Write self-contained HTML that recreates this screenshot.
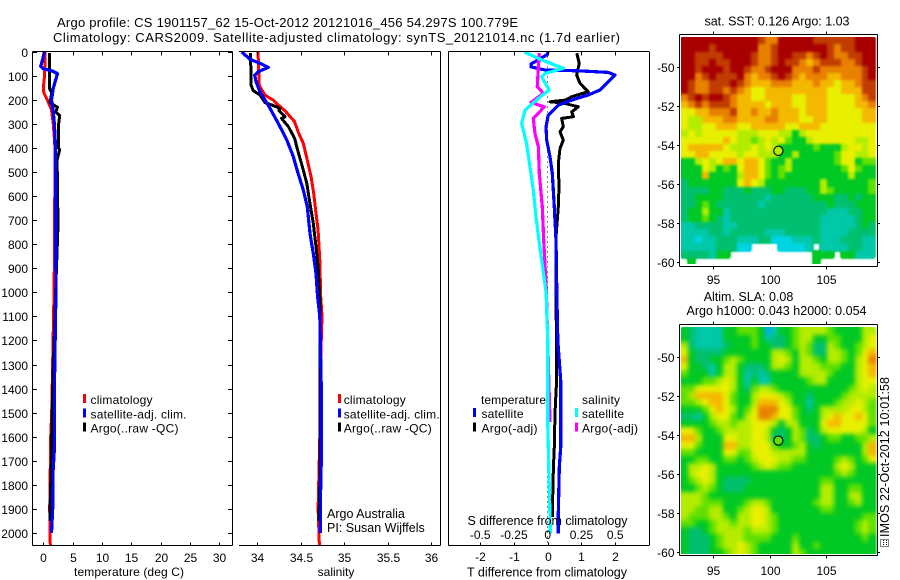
<!DOCTYPE html>
<html>
<head>
<meta charset="utf-8">
<title>Argo profile CS 1901157_62</title>
<style>
html,body{margin:0;padding:0;background:#fff;}
svg{display:block;}
text{font-family:"Liberation Sans",sans-serif;font-size:12px;fill:#000;}
.big{font-size:13px;}
.mid{font-size:12.5px;}
</style>
</head>
<body>
<svg id="chart" width="900" height="580" viewBox="0 0 900 580" xmlns="http://www.w3.org/2000/svg">
  <defs>
    <filter id="soften-sst" filterUnits="userSpaceOnUse" x="670" y="25" width="220" height="250" color-interpolation-filters="sRGB">
      <feGaussianBlur stdDeviation="1.2"/>
      <feComponentTransfer><feFuncA type="linear" slope="2" intercept="0"/></feComponentTransfer>
    </filter>
    <filter id="soften-sla" filterUnits="userSpaceOnUse" x="670" y="315" width="220" height="250" color-interpolation-filters="sRGB">
      <feGaussianBlur stdDeviation="2.4"/>
      <feComponentTransfer><feFuncA type="linear" slope="2" intercept="0"/></feComponentTransfer>
    </filter>
    <clipPath id="clip-sst"><rect x="681" y="37" width="196" height="227"/></clipPath>
    <clipPath id="clip-sla"><rect x="681" y="327" width="196" height="227"/></clipPath>
  </defs>
  <rect x="0" y="0" width="900" height="580" fill="#fff"/>
  <text class="big" x="57" y="27" textLength="461">Argo profile: CS 1901157_62 15-Oct-2012 20121016_456 54.297S 100.779E</text>
  <text class="big" x="53" y="42" textLength="567">Climatology: CARS2009. Satellite-adjusted climatology: synTS_20121014.nc (1.7d earlier)</text>
  <g id="layer-heat"></g>
  <g id="layer-lines"></g>
  <g id="layer-axes"></g>
  <text x="129" y="576" text-anchor="middle" textLength="110">temperature (deg C)</text>
  <text x="336" y="576" text-anchor="middle">salinity</text>
  <text class="mid" x="547" y="576.5" text-anchor="middle" textLength="160">T difference from climatology</text>
  <text class="mid" x="547.5" y="525" text-anchor="middle" textLength="160">S difference from climatology</text>
  <text class="mid" x="327" y="518">Argo Australia</text>
  <text class="mid" x="327" y="532">PI: Susan Wijffels</text>
  <text class="mid" x="777" y="25.5" text-anchor="middle" textLength="145">sat. SST: 0.126 Argo: 1.03</text>
  <text class="mid" x="748.5" y="301" text-anchor="middle">Altim. SLA: 0.08</text>
  <text class="mid" x="776.5" y="315" text-anchor="middle" textLength="180">Argo h1000: 0.043 h2000: 0.054</text>
  <text class="mid" transform="translate(889,537) rotate(-90)" textLength="160">IMOS 22-Oct-2012 10:01:58</text>
  <g fill="none" stroke="#000" stroke-width="1" stroke-dasharray="1 1" shape-rendering="crispEdges">
    <rect x="880.5" y="539.5" width="8" height="7"/>
    <line x1="883.5" y1="540" x2="883.5" y2="546"/>
    <line x1="886.5" y1="540" x2="886.5" y2="546"/>
  </g>
</svg>
<script>
// ---------- Profile data: depth (dbar) and value pairs kept in small arrays ----------
const tempClimDepth = [0,50,100,150,170,200,240,300,400,450,900,1000,1500,1600,1900,2054];
const tempClimValue = [0.3,0.3,0.2,0,0.1,0.7,1.4,1.7,2.0,2.0,1.88,1.83,1.43,1.26,1.09,1.2];
const tempArgoDepth = [5,150,170,210,230,250,265,300,400,405,450,720,1000,1450,1600,1650,1800,1900,1950];
const tempArgoValue = [1.03,1.03,1.45,1.15,2.4,2.15,2.8,2.6,2.6,2.8,2.35,2.5,2.1,1.53,1.43,1.43,1.26,1.15,1.15];
const tempSatDepth = [0,30,60,70,78,90,100,150,200,250,300,400,1000,1400,1650,1750,1900,2000];
const tempSatValue = [0.17,-0.1,-0.45,0,1.45,2.4,2.3,1.7,1.4,1.7,1.9,2.1,2.15,1.9,1.9,1.65,1.6,1.4];

const salClimDepth = [0,140,180,200,214,245,290,332,380,450,519,588,671,741,866,1018,1100,1400,1600,1900,2054];
const salClimValue = [34.008,34.023,34.09,34.184,34.22,34.32,34.43,34.47,34.53,34.576,34.62,34.65,34.676,34.7,34.72,34.73,34.745,34.72,34.72,34.7,34.715];
const salArgoDepth = [5,137,161,179,211,220,234,244,269,276,310,359,415,477,546,616,713,810,894,1018,1600,1800,1950];
const salArgoValue = [33.923,33.927,33.954,34.03,34.09,34.165,34.26,34.25,34.32,34.28,34.357,34.43,34.47,34.52,34.57,34.6,34.645,34.676,34.7,34.72,34.72,34.72,34.71];
const salSatDepth = [0,30,47,64,82,96,123,165,200,234,310,366,435,505,574,644,755,838,921,1018,1100,1400,1700,1800,2000];
const salSatValue = [33.82,33.915,34.03,34.127,34.01,33.97,33.985,34.03,34.09,34.146,34.26,34.34,34.415,34.47,34.53,34.576,34.607,34.645,34.676,34.695,34.72,34.737,34.737,34.73,34.726];

const diffTArgoDepth = [5,47,96,130,165,186,200,207,212,228,249,269,276,311,332,367,401,464,561,644,769,1000,1367,1502,1644,1727,1922,1935];
const diffTArgoValue = [0.858,0.937,0.858,0.957,1.2,0.71,0.512,0.068,0.45,0.907,0.71,0.76,0.414,0.463,0.364,0.463,0.364,0.315,0.335,0.315,0.246,0.25,0.265,0.215,0.197,0.168,0.137,0.137];
const diffTSatDepth = [0,12,50,62,75,78,85,96,124,158,179,200,221,262,311,367,436,505,644,783,1000,1200,1367,1644,1727,1922,2003];
const diffTSatValue = [0.019,-0.03,-0.495,-0.495,-0.08,0.907,1.796,1.994,1.796,1.55,1.2,0.71,0.315,0.019,-0.05,-0.03,0.068,0.137,0.197,0.246,0.27,0.3,0.384,0.384,0.345,0.315,0.315];
const diffSArgoDepth = [5,61,144,172,210,228,276,339,394,505,644,783,1000,1200,1540];
const diffSArgoValue = [-0.062,-0.069,-0.077,-0.032,-0.124,-0.025,-0.107,-0.094,-0.069,-0.062,-0.04,-0.03,-0.01,0,0.017];
const diffSSatDepth = [0,33,68,89,103,158,193,242,297,381,478,575,686,783,1000,1200,1540,2003];
const diffSSatValue = [-0.173,-0.045,0.116,-0.02,-0.045,0.01,-0.07,-0.168,-0.193,-0.156,-0.131,-0.107,-0.087,-0.065,-0.012,0,0,0.02];

// ---------- Tick labels ----------
const depthTicks = [0,100,200,300,400,500,600,700,800,900,1000,1100,1200,1300,1400,1500,1600,1700,1800,1900,2000];
const tempTicks = [0,5,10,15,20,25,30];
const salTicks = [34,34.5,35,35.5,36];
const diffTTicks = [-2,-1,0,1,2];
const diffSTicks = [-0.5,-0.25,0,0.25,0.5];
const lonTicks = [95,100,105];
const latTicks = [-50,-52,-54,-56,-58,-60];
const argoLon = [100.779];
const argoLat = [-54.297];
const sstArgoLevel = [5];
const slaArgoLevel = [4];

// ---------- Heatmap cells (colour level per cell; _ is missing data) ----------
const _ = null;
const sstGrid = [
[10,10,10,10,10,10,10,10,10,10,10,9,8,8,10,10,10,10,10,9,9,9,9,9,9,10,10,10],
[10,10,10,10,9,10,10,10,10,10,10,8,8,9,10,10,10,10,10,10,10,9,8,9,9,10,10,10],
[10,10,9,9,9,9,10,10,10,10,9,8,8,9,10,10,9,9,8,9,10,9,8,8,9,9,10,10],
[10,10,9,9,10,9,9,10,10,10,9,8,8,9,10,9,9,8,7,8,9,9,9,8,8,9,10,10],
[10,10,9,10,10,10,9,10,10,9,8,8,9,10,10,10,8,8,8,9,8,8,8,8,8,8,9,10],
[10,10,8,9,10,9,9,9,10,8,7,8,8,9,10,9,8,7,8,8,8,7,7,8,8,8,9,10],
[10,9,8,8,9,9,9,10,9,8,7,7,7,8,8,8,7,7,7,8,7,7,6,7,7,8,9,9],
[10,9,8,8,9,9,8,9,8,7,6,6,7,7,7,7,7,7,7,7,7,6,6,7,7,7,9,9],
[8,9,10,9,10,10,9,8,7,7,6,6,7,7,7,7,6,6,7,7,7,6,6,6,6,7,8,9],
[7,8,9,8,9,9,9,8,7,7,7,7,6,7,7,7,6,6,7,7,7,6,6,6,6,7,7,8],
[6,6,7,7,8,8,8,9,7,7,8,7,7,8,7,7,7,6,7,7,7,6,6,6,6,6,7,7],
[6,5,5,7,7,7,8,8,7,7,7,7,8,8,7,7,7,6,6,7,7,6,6,6,6,6,7,7],
[6,5,5,6,6,7,7,7,6,6,7,7,7,7,7,6,6,7,7,7,6,6,6,6,6,6,6,6],
[5,6,5,6,6,6,6,6,5,5,5,6,6,6,5,5,3,5,6,6,6,6,6,6,6,6,6,6],
[6,6,6,6,6,6,7,6,5,5,4,5,6,5,6,4,3,3,5,6,6,6,6,6,6,5,5,6],
[6,7,7,7,7,7,6,5,5,5,6,5,6,5,3,3,3,3,3,4,3,3,3,5,6,6,5,6],
[6,6,7,7,6,6,6,6,5,6,6,5,5,5,3,3,5,3,3,3,3,3,4,6,6,5,5,6],
[3,3,5,6,5,6,7,7,6,7,7,6,4,3,3,5,3,3,3,3,3,3,4,6,6,3,4,4],
[3,3,3,6,5,3,4,3,6,7,7,6,4,3,4,5,3,3,3,3,3,3,3,4,6,4,3,3],
[3,3,3,7,3,3,3,3,5,7,7,6,4,3,4,3,3,3,3,3,3,3,3,3,5,3,3,3],
[2,3,3,3,3,3,3,3,6,7,6,5,3,3,3,3,3,3,3,3,5,3,3,3,3,3,3,4],
[2,2,2,2,3,3,2,2,2,3,2,2,2,3,3,2,2,2,3,3,5,4,3,3,3,3,3,4],
[2,2,3,3,3,3,2,2,2,2,2,2,1,2,2,2,2,2,2,3,3,3,2,2,3,2,3,3],
[2,2,3,4,3,2,2,2,2,2,2,1,2,2,2,2,2,2,2,2,2,3,2,2,2,3,3,3],
[2,3,3,5,3,3,1,2,2,2,2,2,2,2,2,2,2,2,2,2,2,1,1,1,2,2,3,3],
[2,3,3,4,3,2,1,2,2,2,2,2,2,2,2,2,2,2,2,2,1,1,1,1,1,2,3,3],
[1,1,2,2,2,2,1,1,2,2,2,2,2,2,2,2,2,2,2,2,1,1,1,1,1,2,3,2],
[1,1,1,1,2,2,1,2,2,2,2,2,1,1,1,2,2,2,2,2,1,1,1,1,2,2,2,2],
[1,1,0,1,1,2,2,2,1,1,1,2,2,0,0,0,1,1,1,2,1,1,1,2,2,2,1,1],
[1,1,1,1,1,2,2,2,0,0,_,_,_,_,0,0,0,0,1,_,1,1,1,1,2,2,1,1],
[2,2,2,2,1,3,3,_,_,_,_,_,_,_,_,_,_,_,_,3,3,3,_,3,3,1,1,1],
[_,3,_,_,_,_,_,_,_,_,_,_,_,_,_,_,_,_,_,3,_,_,_,_,_,_,_,_]
];
const slaGrid = [
[3,2,1,1,1,1,3,3,4,4,4,3,-1,1,3,3,4,5,5,5,5,4,3,3,3,3,5,5],
[3,2,1,1,1,1,3,3,3,3,4,3,1,2,2,3,4,5,5,3,3,4,4,3,3,3,5,6],
[5,2,1,1,1,1,2,3,3,3,4,3,3,2,2,3,4,5,4,2,2,5,4,3,3,4,5,6],
[6,3,2,2,2,2,3,3,3,3,3,3,3,5,5,4,3,5,4,2,2,5,5,4,3,4,6,7],
[7,3,2,2,3,3,4,5,4,3,3,3,3,5,6,5,3,5,5,4,3,5,5,4,3,5,6,8],
[6,3,3,2,1,3,5,5,3,2,2,2,3,5,5,4,3,5,5,5,4,4,4,3,3,5,6,7],
[4,3,3,3,1,3,5,5,3,1,2,1,2,3,3,3,3,5,5,5,5,4,3,3,3,5,6,7],
[3,3,3,4,4,5,6,5,3,1,3,1,1,3,3,3,3,3,4,5,5,3,3,3,3,5,6,6],
[4,4,6,6,6,6,6,5,3,2,4,5,5,4,3,3,3,3,3,3,3,3,3,3,4,5,6,5],
[4,5,7,7,7,7,6,4,3,3,5,6,6,6,5,4,3,3,2,3,3,3,3,4,5,5,5,5],
[4,4,5,6,7,7,6,4,3,3,5,7,7,7,6,5,3,3,1,3,3,3,4,5,5,6,5,4],
[3,3,3,4,6,7,6,5,3,4,6,8,8,8,6,6,4,3,2,3,5,5,5,5,6,6,5,4],
[2,2,1,3,5,6,6,4,3,5,6,8,8,7,6,6,4,3,3,3,5,6,7,6,6,7,6,4],
[3,3,3,3,4,5,5,4,5,5,6,6,6,5,3,5,5,3,3,3,6,7,7,6,6,6,6,4],
[6,6,4,3,3,4,5,5,5,5,6,6,5,3,2,3,5,4,2,3,5,6,6,6,6,6,5,3],
[7,7,5,3,3,3,6,6,5,5,6,6,5,2,2,3,5,4,2,2,3,4,4,3,3,4,4,5],
[6,6,4,3,3,3,7,7,5,5,6,6,6,4,3,3,4,5,3,2,3,3,3,3,3,3,5,7],
[4,4,3,3,3,3,6,6,4,4,6,6,6,5,5,5,5,5,3,3,3,3,3,3,3,3,5,7],
[3,3,4,4,3,3,4,4,3,4,5,6,6,6,5,5,4,4,3,3,3,3,4,5,4,3,4,6],
[3,5,5,6,5,3,3,3,3,3,4,5,6,5,4,4,3,3,3,3,3,3,5,6,5,3,3,3],
[3,5,6,6,5,3,3,3,3,3,3,3,3,3,3,3,3,3,3,3,3,3,4,5,4,3,3,3],
[3,4,5,6,5,3,2,2,2,2,3,3,3,3,3,3,3,3,3,3,4,4,3,3,3,3,3,3],
[3,3,4,5,4,3,2,2,2,3,3,3,3,3,3,3,3,3,3,3,5,5,3,3,4,4,3,3],
[5,5,5,4,3,3,3,3,3,3,3,3,3,3,3,3,3,3,3,3,5,5,3,3,5,5,3,3],
[5,5,5,4,4,4,3,3,3,4,5,5,4,3,3,3,3,3,3,4,5,5,3,3,4,5,3,3],
[5,5,4,4,5,5,3,3,4,5,6,6,5,3,3,3,3,3,3,3,4,4,3,3,3,3,3,3],
[5,4,4,4,5,5,4,3,5,5,6,6,5,4,3,3,3,3,3,3,3,3,3,3,3,3,4,4],
[4,4,3,3,4,5,5,4,5,5,6,6,5,4,3,3,3,3,3,3,3,3,3,3,3,4,5,4],
[3,2,2,3,4,5,5,5,5,4,5,5,5,4,3,3,3,3,3,3,3,3,3,3,3,4,5,4],
[3,2,2,2,3,4,5,5,5,4,4,4,4,3,3,3,4,3,3,3,3,3,3,3,3,3,4,3],
[3,2,2,2,3,4,5,5,6,5,4,3,3,3,3,3,5,3,3,4,3,3,3,3,3,3,3,3],
[3,2,2,2,3,3,4,5,6,5,4,3,3,3,3,3,5,4,3,3,3,3,3,3,3,3,3,3]
];

// ---------- Styling and geometry ----------
const NS = 'http://www.w3.org/2000/svg';
const levelColor = {'-1':'#00a8f8',0:'#00d4e0',1:'#00c8a8',2:'#00c070',3:'#00c824',4:'#60e000',5:'#b4ec00',6:'#e8f000',7:'#f4b800',8:'#e88000',9:'#c03c00',10:'#a80000'};
const depthY = d => 52 + 0.2404 * d;
const tempX = v => 43.3 + 5.867 * v;
const salX = v => 257.3 + 86.8 * (v - 34);
const diffTX = v => 547.7 + 33.75 * v;
const diffSX = v => 547.7 + 135 * v;
const lonX = v => 713 + 11.31 * (v - 95);
const sstLatY = v => 67.3 + 19.44 * (-50 - v);
const slaLatY = v => 356.7 + 19.53 * (-50 - v);
const PANEL_TOP = 51.5, PANEL_BOTTOM = 545.5;
const GRID_LON0 = 92.2, GRID_DLON = 0.6128;
const SST_LAT0 = -48.46, SLA_LAT0 = -48.5, GRID_DLAT = 0.3655;

const heatLayer = document.getElementById('layer-heat');
const lineLayer = document.getElementById('layer-lines');
const axisLayer = document.getElementById('layer-axes');

function svgEl(tag, attrs, parent) {
  const el = document.createElementNS(NS, tag);
  for (const k in attrs) el.setAttribute(k, attrs[k]);
  parent.appendChild(el);
  return el;
}
function seg(x1, y1, x2, y2) {
  const el = svgEl('line', {x1:x1, y1:y1, x2:x2, y2:y2, stroke:'#000', 'stroke-width':1, 'shape-rendering':'crispEdges'}, axisLayer);
  
  
  return el;
}
function label(str, x, y, anchor) {
  const el = svgEl('text', {x:x, y:y, 'text-anchor':anchor}, axisLayer);
  el.textContent = str;
  
  
  return el;
}
function profile(depths, values, xf, color, width) {
  const pts = depths.map((d, i) => xf(values[i]).toFixed(1) + ',' + depthY(d).toFixed(1)).join(' ');
  const el = svgEl('polyline', {points:pts, fill:'none', stroke:color, 'stroke-width':width, 'stroke-linejoin':'round', 'shape-rendering':'crispEdges'}, lineLayer);
  
  
  return el;
}

// ---------- Profile series ----------
const RED = '#ff0000', BLUE = '#0000ff', BLACK = '#000000', CYAN = '#00ffff', MAGENTA = '#ff00ff';
profile(tempClimDepth, tempClimValue, tempX, RED, 3);
profile(tempArgoDepth, tempArgoValue, tempX, BLACK, 3);
profile(tempSatDepth, tempSatValue, tempX, BLUE, 3.2);
profile(salClimDepth, salClimValue, salX, RED, 3);
profile(salArgoDepth, salArgoValue, salX, BLACK, 3);
profile(salSatDepth, salSatValue, salX, BLUE, 3.2);

// Zero reference, dotted, in the difference panel
const zeroLine = svgEl('line', {x1:diffTX(0), y1:PANEL_TOP, x2:diffTX(0), y2:PANEL_BOTTOM, stroke:'#000', 'stroke-width':1, 'stroke-dasharray':'1 4', 'shape-rendering':'crispEdges'}, lineLayer);


profile(diffTArgoDepth, diffTArgoValue, diffTX, BLACK, 3);
profile(diffTSatDepth, diffTSatValue, diffTX, BLUE, 3.2);
profile(diffSArgoDepth, diffSArgoValue, diffSX, MAGENTA, 3.2);
profile(diffSSatDepth, diffSSatValue, diffSX, CYAN, 3.2);

// ---------- Profile axes ----------
// Panel 1
seg(32.5, PANEL_TOP, 232.5, PANEL_TOP);
seg(32.5, PANEL_BOTTOM, 232.5, PANEL_BOTTOM);
seg(32.5, PANEL_TOP, 32.5, PANEL_BOTTOM);
seg(232.5, PANEL_TOP, 232.5, PANEL_BOTTOM);
depthTicks.forEach(d => {
  const y = Math.round(depthY(d)) + 0.5;
  seg(32, y, 37, y);
  seg(228, y, 232, y);
  label(String(d), 28, y + 4.5, 'end');
});
tempTicks.forEach(t => {
  const x = Math.round(tempX(t)) + 0.5;
  seg(x, PANEL_TOP, x, PANEL_TOP + 4);
  seg(x, PANEL_BOTTOM - 3, x, PANEL_BOTTOM);
  label(String(t), x, 562, 'middle');
});
// Panel 2
seg(239, PANEL_TOP, 440.5, PANEL_TOP);
seg(239, PANEL_BOTTOM, 440.5, PANEL_BOTTOM);
seg(440.5, PANEL_TOP, 440.5, PANEL_BOTTOM);
salTicks.forEach(s => {
  const x = Math.round(salX(s)) + 0.5;
  seg(x, PANEL_TOP, x, PANEL_TOP + 4);
  seg(x, PANEL_BOTTOM - 3, x, PANEL_BOTTOM);
  label(String(s), x, 562, 'middle');
});
// Panel 3
seg(448.5, PANEL_TOP, 649, PANEL_TOP);
seg(448.5, PANEL_BOTTOM, 649, PANEL_BOTTOM);
seg(448.5, PANEL_TOP, 448.5, PANEL_BOTTOM);
seg(649.5, PANEL_TOP, 649.5, PANEL_BOTTOM);
diffTTicks.forEach(t => {
  const x = Math.round(diffTX(t)) + 0.5;
  seg(x, PANEL_TOP, x, PANEL_TOP + 4);
  seg(x, PANEL_BOTTOM - 3, x, PANEL_BOTTOM);
  label(String(t), x, 561, 'middle');
});
diffSTicks.forEach(s => {
  label(String(s), diffSX(s), 539, 'middle');
});

// ---------- Legends ----------
function legendEntry(barX, textX, y, color, str, widthPx) {
  const bar = svgEl('rect', {x:barX, y:y, width:3, height:9, fill:color, 'shape-rendering':'crispEdges'}, axisLayer);
  
  
  const t = svgEl('text', {x:textX, y:y + 10, textLength:widthPx}, axisLayer);
  t.textContent = str;
  
  
}
const legendLabels = ['climatology', 'satellite-adj. clim.', 'Argo(..raw -QC)'];
const legendColors = [RED, BLUE, BLACK];
const legendWidths = [62, 96, 88];
legendLabels.forEach((s, i) => {
  legendEntry(83, 90.5, 394 + 14.3 * i, legendColors[i], s, legendWidths[i]);
  legendEntry(338, 343.7, 394 + 14.3 * i, legendColors[i], s, legendWidths[i]);
});
legendEntry(473, 481.5, 408, BLUE, 'satellite', 42);
legendEntry(473, 481.5, 422.5, BLACK, 'Argo(-adj)', 56);
legendEntry(575, 582, 408, CYAN, 'satellite', 42);
legendEntry(575, 582, 422.5, MAGENTA, 'Argo(-adj)', 56);
const legendHeadT = svgEl('text', {x:481, y:404, textLength:65}, axisLayer);
legendHeadT.textContent = 'temperature';


const legendHeadS = svgEl('text', {x:582, y:404, textLength:38}, axisLayer);
legendHeadS.textContent = 'salinity';



// ---------- Maps ----------
function drawMap(grid, lat0, latY, boxTop, boxBottom, lonLabelY, arrowLevel, clipId, filterId) {
  const clipWrap = svgEl('g', {'clip-path':'url(#' + clipId + ')'}, heatLayer);
  const cells = svgEl('g', {filter:'url(#' + filterId + ')'}, clipWrap);
  grid.forEach((row, r) => {
    row.forEach((v, c) => {
      if (v === null || v === undefined) return;
      const x0 = lonX(GRID_LON0 + GRID_DLON * c);
      const x1 = lonX(GRID_LON0 + GRID_DLON * (c + 1));
      const y0 = latY(lat0 - GRID_DLAT * r);
      const y1 = latY(lat0 - GRID_DLAT * (r + 1));
      const cell = svgEl('rect', {x:Math.round(x0), y:Math.round(y0), width:Math.round(x1) - Math.round(x0), height:Math.round(y1) - Math.round(y0), fill:levelColor[v], 'shape-rendering':'crispEdges'}, cells);
      
      
    });
  });
  seg(679.5, boxTop, 877.5, boxTop);
  seg(679.5, boxBottom, 877.5, boxBottom);
  seg(679.5, boxTop, 679.5, boxBottom);
  seg(877.5, boxTop, 877.5, boxBottom);
  lonTicks.forEach(l => {
    const x = Math.round(lonX(l)) + 0.5;
    seg(x, boxTop - 3, x, boxTop);
    seg(x, boxBottom, x, boxBottom + 3);
    label(String(l), x, lonLabelY, 'middle');
  });
  latTicks.forEach(l => {
    const y = Math.round(latY(l)) + 0.5;
    seg(677, y, 679.5, y);
    seg(877.5, y, 880, y);
    label(String(l), 674.5, y + 4.5, 'end');
  });
  const dot = svgEl('circle', {cx:lonX(argoLon[0]), cy:latY(argoLat[0]), r:4.6, fill:levelColor[arrowLevel], stroke:'#000', 'stroke-width':1.1}, axisLayer);
  
  
}
drawMap(sstGrid, SST_LAT0, sstLatY, 34.5, 266.5, 284, sstArgoLevel[0], 'clip-sst', 'soften-sst');
drawMap(slaGrid, SLA_LAT0, slaLatY, 324.5, 555.5, 575, slaArgoLevel[0], 'clip-sla', 'soften-sla');
</script>
</body>
</html>
